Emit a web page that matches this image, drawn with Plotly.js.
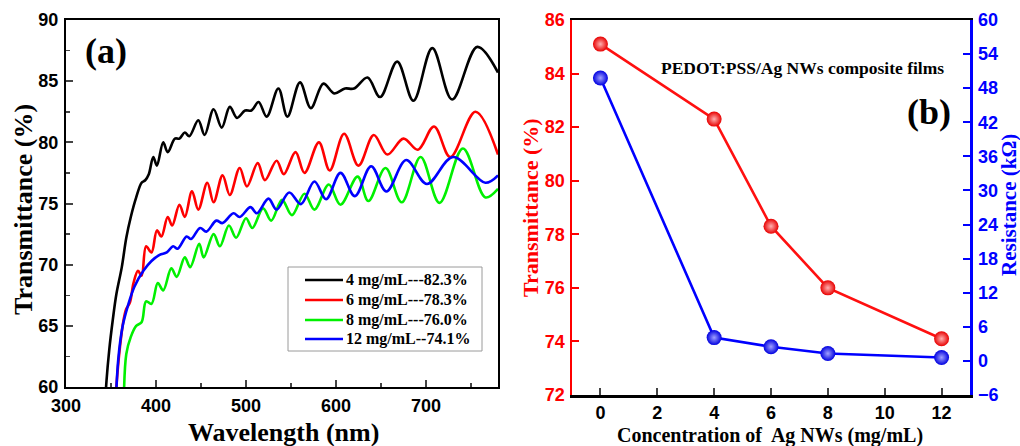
<!DOCTYPE html>
<html>
<head>
<meta charset="utf-8">
<script src="https://cdn.plot.ly/plotly-3.0.1.min.js"></script>
<style>html,body{margin:0;padding:0;background:#fff;}#chart{width:1020px;height:446px;}</style>
</head>
<body>
<div id="chart"></div>
<script>
// ---- Panel (a): transmittance spectra ----
const legendNames = ["4 mg/mL---82.3%", "6 mg/mL---78.3%", "8 mg/mL---76.0%", "12 mg/mL--74.1%"];
const seriesColors = ['#000000', '#ff0000', '#00f000', '#0000ff'];

const wl4 = [343, 345, 348, 352, 356, 362, 367, 372, 378, 384, 388, 392, 397, 401, 408, 413, 421, 426, 432, 437, 447, 454, 464, 473, 482, 490, 499, 506, 514, 523, 536, 546, 560, 572, 586, 598, 610, 620, 635, 649, 668, 686, 707, 729, 757, 780];
const t4  = [58, 60.5, 63, 65.5, 67.6, 69.8, 72.2, 73.9, 75.5, 76.7, 76.9, 77.4, 78.8, 78.1, 80.0, 79.2, 80.3, 80.3, 80.8, 80.5, 81.8, 80.6, 82.7, 81.2, 82.9, 82.0, 82.6, 82.6, 83.3, 82.1, 84.4, 82.1, 84.9, 82.8, 84.8, 84.0, 84.4, 84.4, 85.3, 83.7, 86.6, 83.4, 87.7, 83.5, 87.8, 85.7];

const wl6 = [354, 357, 360, 364, 367, 371, 375, 380, 384, 389, 395, 401, 406, 413, 418, 426, 432, 440, 447, 457, 464, 474, 482, 493, 501, 513, 521, 534, 542, 555, 565, 581, 593, 609, 625, 642, 657, 675, 691, 709, 727, 755, 780];
const t6  = [58, 61, 63.3, 65.5, 66.4, 66.9, 68.5, 69.5, 69.1, 71.5, 71.0, 72.8, 72.3, 73.9, 73.2, 74.9, 73.9, 76.0, 74.5, 76.7, 75.1, 77.3, 75.7, 77.9, 76.4, 78.3, 76.9, 78.5, 77.4, 79.2, 77.5, 80.0, 77.7, 80.7, 78.1, 80.6, 79.0, 80.3, 79.4, 81.3, 78.8, 82.5, 79.0];

const wl8 = [364, 367, 372, 378, 384, 389, 395, 402, 408, 417, 423, 432, 438, 448, 453, 464, 471, 481, 489, 500, 507, 519, 528, 540, 551, 565, 576, 592, 605, 624, 636, 655, 673, 694, 715, 741, 766, 780];
const t8  = [58, 62.7, 64.1, 65.0, 65.3, 67.0, 66.8, 68.5, 67.9, 69.7, 69.0, 70.6, 69.8, 71.7, 70.6, 72.5, 71.5, 73.2, 72.2, 73.8, 73.0, 74.6, 73.6, 75.3, 74.05, 75.8, 74.5, 76.55, 74.9, 77.2, 75.2, 77.9, 75.1, 78.8, 75.05, 79.5, 75.5, 76.2];

const wl12 = [355, 358, 363, 369, 376, 386, 395, 404, 412, 419, 424, 434, 439, 449, 456, 467, 474, 486, 493, 505, 512, 525, 534, 548, 561, 576, 589, 605, 621, 639, 656, 678, 701, 730, 766, 780];
const t12  = [58, 62.2, 65.0, 66.7, 68.2, 69.5, 70.3, 70.8, 71.0, 71.5, 71.3, 72.3, 72.1, 73.0, 72.7, 73.6, 73.4, 74.2, 73.9, 74.7, 74.2, 75.4, 74.5, 75.9, 74.95, 76.8, 75.35, 77.5, 75.6, 78.05, 75.98, 78.55, 76.6, 78.8, 76.7, 77.3];

// ---- Panel (b): transmittance and resistance vs concentration ----
const conc = [0, 4, 6, 8, 12];
const transB = [85.1, 82.3, 78.3, 76.0, 74.1];
const resist = [49.8, 4.1, 2.5, 1.3, 0.6];

const serif = "Liberation Serif, Times New Roman, serif";
const sans = "Liberation Sans, Arial, sans-serif";
const W = 1020, H = 446;
const px = x => x / W;
const py = y => 1 - y / H;

const spec = (x, y, name, color) => ({
  x: x, y: y, name: name, type: 'scatter', mode: 'lines', showlegend: false,
  line: {color: color, width: 2.6, shape: 'spline', smoothing: 1},
  xaxis: 'x', yaxis: 'y', hoverinfo: 'skip'
});

const data = [
  spec(wl4, t4, legendNames[0], seriesColors[0]),
  spec(wl6, t6, legendNames[1], seriesColors[1]),
  spec(wl8, t8, legendNames[2], seriesColors[2]),
  spec(wl12, t12, legendNames[3], seriesColors[3]),
  {x: conc, y: transB, type: 'scatter', mode: 'lines+markers', showlegend: false,
   xaxis: 'x2', yaxis: 'y2',
   line: {color: '#ff1010', width: 2.6},
   marker: {size: 15, color: '#e80000', gradient: {type: 'radial', color: '#ffb0b0'}, line: {width: 0}}},
  {x: conc, y: resist, type: 'scatter', mode: 'lines+markers', showlegend: false,
   xaxis: 'x2', yaxis: 'y3',
   line: {color: '#0000ff', width: 2.6},
   marker: {size: 15, color: '#0000e0', gradient: {type: 'radial', color: '#a0a0ff'}, line: {width: 0}}}
];

const tickFont = c => ({family: sans, size: 18, weight: 'bold', color: c});

// legend box (drawn in paper space)
const legendRows = [280, 300, 320, 339];
const shapes = [
  {type: 'rect', xref: 'paper', yref: 'paper', x0: px(288), x1: px(482), y0: py(351), y1: py(267),
   line: {color: '#9a9a9a', width: 1}, fillcolor: '#ffffff', layer: 'above'}
];
const legendAnn = [];
legendNames.forEach((n, i) => {
  shapes.push({type: 'line', xref: 'paper', yref: 'paper', x0: px(305), x1: px(343), y0: py(legendRows[i]), y1: py(legendRows[i]),
    line: {color: seriesColors[i], width: 2.6}, layer: 'above'});
  legendAnn.push({text: n, x: px(344), y: py(legendRows[i]), xref: 'paper', yref: 'paper', showarrow: false,
    xanchor: 'left', yanchor: 'middle', font: {family: serif, size: 16, weight: 'bold', color: '#000'}});
});

const layout = {
  width: W, height: H,
  margin: {l: 0, r: 0, t: 0, b: 0},
  paper_bgcolor: '#fff', plot_bgcolor: '#fff',
  showlegend: false,
  xaxis: {
    domain: [px(66), px(498)], range: [300, 780], anchor: 'y',
    tickvals: [300, 400, 500, 600, 700], ticks: 'inside', ticklen: 7, tickwidth: 2,
    minor: {tickvals: [350, 450, 550, 650, 750], ticks: 'inside', ticklen: 4, tickwidth: 1.5},
    showline: true, linecolor: '#000', linewidth: 2, mirror: true,
    showgrid: false, zeroline: false, tickfont: tickFont('#000'), ticklabelstandoff: 1
  },
  yaxis: {
    domain: [py(387), py(20)], range: [60, 90], anchor: 'x',
    tickvals: [60, 65, 70, 75, 80, 85, 90], ticks: 'inside', ticklen: 7, tickwidth: 2,
    minor: {dtick: 2.5, ticks: 'inside', ticklen: 4, tickwidth: 1.5},
    showline: true, linecolor: '#000', linewidth: 2, mirror: true,
    showgrid: false, zeroline: false, tickfont: tickFont('#000'), ticklabelstandoff: 2
  },
  xaxis2: {
    domain: [px(572), px(970)], range: [-1, 13], anchor: 'y2',
    tickvals: [0, 2, 4, 6, 8, 10, 12], ticks: 'inside', ticklen: 7, tickwidth: 2,
    showline: true, linecolor: '#000', linewidth: 2.5, mirror: true,
    showgrid: false, zeroline: false, tickfont: tickFont('#000'), ticklabelstandoff: 0
  },
  yaxis2: {
    domain: [py(395), py(20)], range: [72, 86], anchor: 'x2',
    tickvals: [72, 74, 76, 78, 80, 82, 84, 86], ticks: 'inside', ticklen: 7, tickwidth: 2, tickcolor: '#ff0000',
    showline: true, linecolor: '#ff0000', linewidth: 2.5,
    showgrid: false, zeroline: false, tickfont: tickFont('#ff0000'), ticklabelstandoff: 1
  },
  yaxis3: {
    overlaying: 'y2', side: 'right', anchor: 'x2', range: [-6, 60],
    tickvals: [-6, 0, 6, 12, 18, 24, 30, 36, 42, 48, 54, 60], ticks: 'inside', ticklen: 7, tickwidth: 2, tickcolor: '#0000ff',
    showline: true, linecolor: '#0000ff', linewidth: 2.5,
    showgrid: false, zeroline: false, tickfont: tickFont('#0000ff'), ticklabelstandoff: 2
  },
  shapes: shapes,
  annotations: legendAnn.concat([
    {text: 'Wavelength (nm)', x: px(283), y: py(432), xref: 'paper', yref: 'paper', showarrow: false,
     xanchor: 'center', yanchor: 'middle', font: {family: serif, size: 26, weight: 'bold', color: '#000'}},
    {text: 'Transmittance (%)', x: px(23), y: py(210), xref: 'paper', yref: 'paper', showarrow: false, textangle: -90,
     xanchor: 'center', yanchor: 'middle', font: {family: serif, size: 26, weight: 'bold', color: '#000'}},
    {text: '(a)', x: px(106), y: py(51), xref: 'paper', yref: 'paper', showarrow: false,
     xanchor: 'center', yanchor: 'middle', font: {family: serif, size: 36, weight: 'bold', color: '#000'}},
    {text: 'Transmittance (%)', x: px(530), y: py(208), xref: 'paper', yref: 'paper', showarrow: false, textangle: -90,
     xanchor: 'center', yanchor: 'middle', font: {family: serif, size: 22, weight: 'bold', color: '#ff0000'}},
    {text: 'Resistance (kΩ)', x: px(1009), y: py(205), xref: 'paper', yref: 'paper', showarrow: false, textangle: -90,
     xanchor: 'center', yanchor: 'middle', font: {family: serif, size: 21, weight: 'bold', color: '#0000ff'}},
    {text: 'Concentration of&nbsp; Ag NWs (mg/mL)', x: px(770), y: py(435), xref: 'paper', yref: 'paper', showarrow: false,
     xanchor: 'center', yanchor: 'middle', font: {family: serif, size: 20, weight: 'bold', color: '#000'}},
    {text: 'PEDOT:PSS/Ag NWs composite films', x: px(802), y: py(68), xref: 'paper', yref: 'paper', showarrow: false,
     xanchor: 'center', yanchor: 'middle', font: {family: serif, size: 17.5, weight: 'bold', color: '#000'}},
    {text: '(b)', x: px(929), y: py(112), xref: 'paper', yref: 'paper', showarrow: false,
     xanchor: 'center', yanchor: 'middle', font: {family: serif, size: 36, weight: 'bold', color: '#000'}}
  ])
};

Plotly.newPlot('chart', data, layout, {staticPlot: true, displayModeBar: false});
</script>
</body>
</html>
